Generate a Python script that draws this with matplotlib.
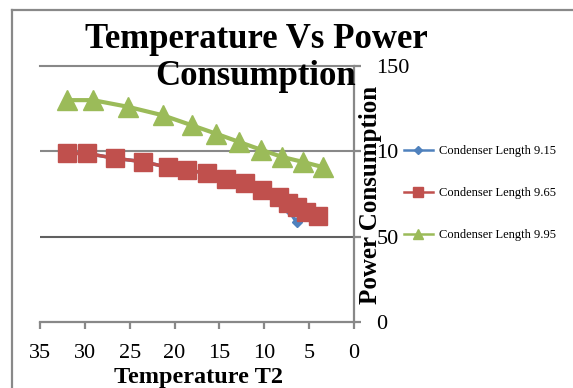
import matplotlib
matplotlib.use("Agg")
import matplotlib.pyplot as plt
from matplotlib.lines import Line2D

# ---- data ----
temp_915 = [32.0, 29.8, 26.6, 23.5, 20.7, 18.6, 16.4, 14.3, 12.2, 10.3, 8.4, 7.4, 6.4]
power_915 = [98.8, 98.8, 95.9, 93.9, 90.6, 89.1, 87.1, 83.6, 80.6, 76.3, 71.5, 66.5, 58.5]

temp_965 = [32.0, 29.8, 26.6, 23.5, 20.7, 18.6, 16.4, 14.3, 12.2, 10.3, 8.4, 7.4, 6.4, 5.3, 4.0]
power_965 = [98.8, 98.8, 95.9, 93.9, 90.6, 89.1, 87.1, 83.6, 81.3, 77.3, 73.4, 69.9, 67.2, 64.6, 62.1]

temp_995 = [32.0, 29.1, 25.2, 21.3, 18.1, 15.4, 12.8, 10.4, 8.0, 5.7, 3.5]
power_995 = [130, 130, 126.1, 121.1, 115.3, 110.4, 105.5, 101.0, 96.7, 93.8, 90.8]

series_labels = ["Condenser Length 9.15", "Condenser Length 9.65", "Condenser Length 9.95"]
x_ticks = [35, 30, 25, 20, 15, 10, 5, 0]
x_tick_labels = ["35", "30", "25", "20", "15", "10", "5", "0"]
y_ticks = [0, 50, 100, 150]
y_tick_labels = ["0", "50", "10", "150"]

title_text = "Temperature Vs Power\nConsumption"
x_label = "Temperature T2"
y_label = "Power Consumption"

# ---- figure ----
W, H = 573, 388
fig = plt.figure(figsize=(W / 100, H / 100), dpi=100)
serif = ["Liberation Serif", "DejaVu Serif"]

ax = fig.add_axes([40 / W, 1 - 322 / H, (354 - 40) / W, (322 - 66) / H])
ax.set_xlim(35, 0)
ax.set_ylim(0, 150)

axis_col = "#888888"
for s in ["left", "top"]:
    ax.spines[s].set_visible(False)
ax.spines["bottom"].set_color(axis_col)
ax.spines["right"].set_color(axis_col)
ax.spines["bottom"].set_linewidth(1.6)
ax.spines["right"].set_linewidth(1.6)

ax.yaxis.tick_right()
ax.set_xticks(x_ticks)
ax.set_xticklabels(x_tick_labels, fontfamily=serif, fontsize=16)
ax.set_yticks(y_ticks)
ax.set_yticklabels(y_tick_labels, fontfamily=serif, fontsize=16, ha="left")
ax.tick_params(axis="x", direction="out", length=5, width=1.6, color=axis_col, pad=10.5)
ax.tick_params(axis="y", direction="out", length=5, width=1.6, color=axis_col, pad=11)

# gridlines
ax.axhline(150, color=axis_col, lw=1.5, zorder=1, clip_on=False)
ax.axhline(100, color=axis_col, lw=1.5, zorder=1)
ax.axhline(50, color="#606060", lw=1.5, zorder=1)

blue, red, green = "#4F81BD", "#C0504D", "#9BBB59"
ax.plot(temp_915, power_915, color=blue, lw=2.5, marker="D", ms=5, zorder=3,
        label=series_labels[0])
ax.plot(temp_965, power_965, color=red, lw=2.5, marker="s", ms=13, zorder=4,
        label=series_labels[1])
ax.plot(temp_995, power_995, color=green, lw=3, marker="^", ms=14, zorder=5,
        label=series_labels[2])

# titles / labels
fig.text(256 / W, 1 - 23 / H, title_text, ha="center", va="top", fontfamily=serif,
         fontsize=25, fontweight="bold", linespacing=1.17, multialignment="center")
fig.text(198 / W, 1 - 377 / H, x_label, ha="center", va="center", fontfamily=serif,
         fontsize=17.5, fontweight="bold")
fig.text(370 / W, 1 - 195 / H, y_label, ha="center", va="center", rotation=90,
         fontfamily=serif, fontsize=18, fontweight="bold")

# legend
handles = [
    Line2D([], [], color=blue, lw=1.8, marker="D", ms=4),
    Line2D([], [], color=red, lw=1.8, marker="s", ms=7),
    Line2D([], [], color=green, lw=1.8, marker="^", ms=7),
]
fig.legend(handles, series_labels, loc="upper left", bbox_to_anchor=(404 / W, 1 - 145 / H),
           frameon=False, prop={"family": serif, "size": 9}, handlelength=2.3,
           handletextpad=0.5, labelspacing=2.4, borderpad=0, borderaxespad=0)

# chart border (top and left)
fig.add_artist(Line2D([12 / W, 1], [1 - 10 / H, 1 - 10 / H], transform=fig.transFigure,
                      color="#898989", lw=1.6))
fig.add_artist(Line2D([12 / W, 12 / W], [1 - 10 / H, 0], transform=fig.transFigure,
                      color="#898989", lw=1.6))

fig.savefig("out.png", dpi=100)
